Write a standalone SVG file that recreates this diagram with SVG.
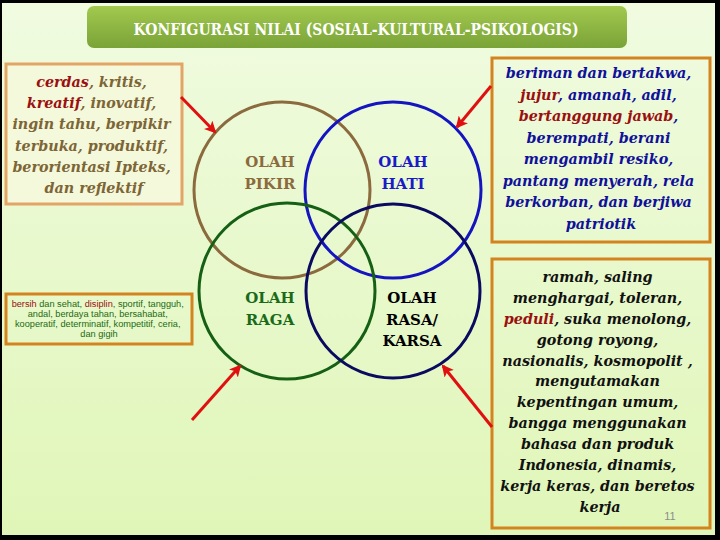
<svg xmlns="http://www.w3.org/2000/svg" width="720" height="540" viewBox="0 0 720 540">
<defs>
<linearGradient id="bg" x1="0" y1="0" x2="0" y2="1">
<stop offset="0" stop-color="#f0fbe0"/>
<stop offset="1" stop-color="#e0f6b8"/>
</linearGradient>
<linearGradient id="tg" x1="0" y1="0" x2="0" y2="1">
<stop offset="0" stop-color="#a2c94e"/>
<stop offset="1" stop-color="#7aa338"/>
</linearGradient>
<marker id="ah" markerUnits="userSpaceOnUse" markerWidth="12" markerHeight="12" refX="10" refY="6" orient="auto">
<path d="M0,0 L12,6 L0,12 L3,6 z" fill="#e01010"/>
</marker>
<style>
.ring{fill:none;stroke-width:3}
.lbl{font-family:"DejaVu Serif","Liberation Serif",serif;font-weight:bold;font-size:15px;text-anchor:middle}
.val{font-family:"DejaVu Serif","Liberation Serif",serif;font-weight:bold;font-style:italic;font-size:14.3px;text-anchor:middle}
.small{font-family:"Liberation Sans","DejaVu Sans",sans-serif;font-size:9.2px;text-anchor:middle;fill:#226a12}
.red{fill:#9a1010}
.box{fill:none;stroke:#d4841e;stroke-width:3}
.arr{stroke:#e01010;stroke-width:3;fill:none;marker-end:url(#ah)}
</style>
</defs>
<rect x="0" y="0" width="720" height="540" fill="#000"/>
<rect x="2" y="3" width="713" height="532" fill="url(#bg)"/>

<g id="title">
<rect x="87" y="6" width="540" height="42" rx="7" fill="url(#tg)"/>
<text x="356" y="35" font-family="DejaVu Serif,Liberation Serif,serif" font-weight="bold" font-size="16" fill="#ffffff" text-anchor="middle" textLength="445" lengthAdjust="spacingAndGlyphs">KONFIGURASI NILAI (SOSIAL-KULTURAL-PSIKOLOGIS)</text>
</g>

<g id="box-pikir">
<rect x="6" y="64" width="176" height="140" fill="#f4f9dc" stroke="#e2a566" stroke-width="3"/>
<text class="val" fill="#7d6536">
<tspan x="94" y="87"><tspan class="red">cerdas</tspan>, kritis,</tspan>
<tspan x="94" y="108"><tspan class="red">kreatif</tspan>, inovatif,</tspan>
<tspan x="94" y="129">ingin tahu, berpikir</tspan>
<tspan x="94" y="151">terbuka, produktif,</tspan>
<tspan x="94" y="172">berorientasi Ipteks,</tspan>
<tspan x="94" y="193">dan reflektif</tspan>
</text>
</g>

<g id="box-raga">
<rect x="6" y="294" width="186" height="50" class="box"/>
<text class="small">
<tspan x="99" y="307"><tspan class="red">bersih</tspan> dan sehat, <tspan class="red">disiplin</tspan>, sportif, tangguh,</tspan>
<tspan x="99" y="317">andal, berdaya tahan, bersahabat,</tspan>
<tspan x="99" y="327">kooperatif, determinatif, kompetitif, ceria,</tspan>
<tspan x="99" y="337">dan gigih</tspan>
</text>
</g>

<g id="box-hati">
<rect x="492" y="58" width="218" height="184" class="box"/>
<text class="val" fill="#10109a">
<tspan x="601" y="78">beriman dan bertakwa,</tspan>
<tspan x="601" y="99.6"><tspan class="red">jujur</tspan>, amanah, adil,</tspan>
<tspan x="601" y="121.1"><tspan class="red">bertanggung jawab</tspan>,</tspan>
<tspan x="601" y="142.7">berempati, berani</tspan>
<tspan x="601" y="164.3">mengambil resiko,</tspan>
<tspan x="601" y="185.9">pantang menyerah, rela</tspan>
<tspan x="601" y="207.4">berkorban, dan berjiwa</tspan>
<tspan x="601" y="229">patriotik</tspan>
</text>
</g>

<g id="box-rasa">
<rect x="492" y="259" width="218" height="269" class="box"/>
<text class="val" fill="#111111">
<tspan x="600" y="282">ramah, saling</tspan>
<tspan x="600" y="303">menghargai, toleran,</tspan>
<tspan x="600" y="323.7"><tspan class="red">peduli</tspan>,  suka menolong,</tspan>
<tspan x="600" y="344.6">gotong royong,</tspan>
<tspan x="600" y="365.5">nasionalis, kosmopolit ,</tspan>
<tspan x="600" y="386.4">mengutamakan</tspan>
<tspan x="600" y="407.3">kepentingan umum,</tspan>
<tspan x="600" y="428.2">bangga menggunakan</tspan>
<tspan x="600" y="449.1">bahasa dan produk</tspan>
<tspan x="600" y="470">Indonesia, dinamis,</tspan>
<tspan x="600" y="490.9">kerja keras, dan beretos</tspan>
<tspan x="600" y="511.8">kerja</tspan>
</text>
<text x="670" y="520" font-family="Liberation Sans,sans-serif" font-size="11" fill="#8c8c8c" text-anchor="middle">11</text>
</g>

<g id="circle-pikir">
<circle cx="282" cy="190" r="88" class="ring" stroke="#8b6a3e"/>
<text class="lbl" fill="#8b6a3e"><tspan x="270" y="167">OLAH</tspan><tspan x="270" y="189">PIKIR</tspan></text>
</g>
<g id="circle-hati">
<circle cx="393" cy="190" r="88" class="ring" stroke="#1515c0"/>
<text class="lbl" fill="#1a1ac8"><tspan x="403" y="167">OLAH</tspan><tspan x="403" y="189">HATI</tspan></text>
</g>
<g id="circle-raga">
<circle cx="287" cy="291" r="88" class="ring" stroke="#156015"/>
<text class="lbl" fill="#1a6a1a"><tspan x="270" y="303">OLAH</tspan><tspan x="270" y="325">RAGA</tspan></text>
</g>
<g id="circle-rasa">
<circle cx="393" cy="291" r="87" class="ring" stroke="#0a0a60"/>
<text class="lbl" fill="#000000"><tspan x="412" y="303">OLAH</tspan><tspan x="412" y="325">RASA/</tspan><tspan x="412" y="346">KARSA</tspan></text>
</g>

<g id="connectors">
<line x1="181" y1="97" x2="215" y2="132" class="arr"/>
<line x1="491" y1="86" x2="457" y2="127" class="arr"/>
<line x1="192" y1="420" x2="240" y2="366" class="arr"/>
<line x1="492" y1="427" x2="443" y2="366" class="arr"/>
</g>
</svg>
